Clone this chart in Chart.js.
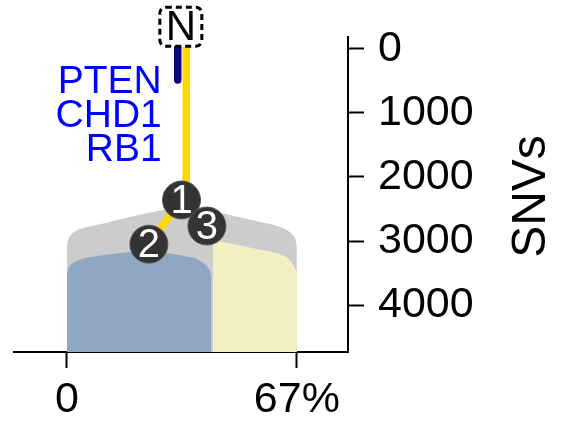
<!DOCTYPE html>
<html><head><meta charset="utf-8">
<script src="https://cdn.jsdelivr.net/npm/chart.js@4.4.1/dist/chart.umd.min.js"></script>
<style>html,body{margin:0;padding:0;background:#fff}canvas{display:block}</style>
</head><body>
<canvas id="c" width="569" height="424"></canvas>
<script>
// Axes
const xTickValues = [0, 67];
const xTickLabels = ['0', '67%'];
const yTickValues = [0, 1000, 2000, 3000, 4000];
const yTickLabels = ['0', '1000', '2000', '3000', '4000'];
const xRange = [-15.4, 81.9];
const yRange = [-187, 4734];
const yTitle = 'SNVs';

// Clone shapes: top outline (x = prevalence %, y = SNVs), filled down to the axis
const cloneAllX = [0, 0.58, 1.75, 3.79, 7.28, 33.79, 59.71, 63.21, 65.25, 66.42, 67];
const cloneAllY = [3078, 2953, 2875, 2813, 2766, 2484, 2742, 2805, 2875, 2953, 3078];
const clone2X = [0, 0.44, 1.46, 3.20, 6.70, 23.59, 37.26, 39.30, 40.76, 41.65, 42.09];
const clone2Y = [3547, 3422, 3359, 3305, 3250, 3156, 3266, 3328, 3391, 3469, 3578];
const clone3X = [42.53, 61.29, 63.62, 65.08, 66.10, 67];
const clone3Y = [2984, 3192, 3242, 3305, 3391, 3484];

// Tree
const rootLabel = 'N';
const rootX = 33.2, rootY = -348;
const nodeLabels = ['1', '2', '3'];
const nodeX = [33.4, 23.9, 40.8];
const nodeY = [2359, 3050, 2766];
const trunkX = [34.8, 34.8];
const trunkY = [-36, 2359];
const driverX = [32.3, 32.3];
const driverY = [-36, 484];
const driverGenes = ['PTEN', 'CHD1', 'RB1'];

const pts = (xs, ys) => xs.map((v, i) => ({x: v, y: ys[i]}));
const FONT = '"Liberation Sans", Arial, Helvetica, sans-serif';

const areaDs = (xs, ys, color, order) => ({
  type: 'line', data: pts(xs, ys), fill: 'start', backgroundColor: color,
  borderWidth: 0, borderColor: 'rgba(0,0,0,0)', pointRadius: 0, tension: 0.25, order, clip: false
});
const edgeDs = (data, color, width, cap, order) => ({
  type: 'line', data, borderColor: color, borderWidth: width, borderCapStyle: cap,
  pointRadius: 0, fill: false, tension: 0, order, clip: false
});

const decor = {
  id: 'decor',
  afterDatasetsDraw(chart) {
    const {ctx, scales: {x, y}} = chart;
    ctx.save();
    // node numbers
    ctx.font = '40px ' + FONT;
    ctx.fillStyle = '#fff';
    ctx.textAlign = 'center';
    ctx.textBaseline = 'middle';
    nodeLabels.forEach((t, i) => {
      const px = x.getPixelForValue(nodeX[i]), py = y.getPixelForValue(nodeY[i]) + 2;
      ctx.fillText(t, px, py);
    });
    // root box
    const rx = x.getPixelForValue(rootX), ry = y.getPixelForValue(rootY);
    const w = 42, h = 39, r = 6, bx = rx - w / 2, by = ry - h / 2;
    ctx.beginPath();
    ctx.moveTo(bx + r, by);
    ctx.arcTo(bx + w, by, bx + w, by + h, r);
    ctx.arcTo(bx + w, by + h, bx, by + h, r);
    ctx.arcTo(bx, by + h, bx, by, r);
    ctx.arcTo(bx, by, bx + w, by, r);
    ctx.closePath();
    ctx.fillStyle = '#fff';
    ctx.fill();
    ctx.setLineDash([6, 4]);
    ctx.lineWidth = 3;
    ctx.strokeStyle = '#000';
    ctx.stroke();
    ctx.setLineDash([]);
    ctx.fillStyle = '#000';
    ctx.font = '42px ' + FONT;
    ctx.fillText(rootLabel, rx, ry + 2);
    // driver genes
    const gx = x.getPixelForValue(driverX[0]) - 16;
    const gy = y.getPixelForValue(driverY[0]);
    ctx.fillStyle = '#0000ff';
    ctx.font = '39px ' + FONT;
    ctx.textAlign = 'right';
    driverGenes.forEach((g, i) => ctx.fillText(g, gx, gy + 36 + i * 33.7));
    // y title
    ctx.translate(y.right - 37, (y.top + y.bottom) / 2 + 2);
    ctx.rotate(-Math.PI / 2);
    ctx.textAlign = 'center';
    ctx.fillStyle = '#000';
    ctx.font = '48px ' + FONT;
    ctx.fillText(yTitle, 0, 0);
    ctx.restore();
  }
};

new Chart(document.getElementById('c'), {
  type: 'line',
  data: {
    datasets: [
      areaDs(cloneAllX, cloneAllY, '#cccccc', 10),
      areaDs(clone2X, clone2Y, '#8fa7c3', 9),
      areaDs(clone3X, clone3Y, '#f2efc3', 9),
      edgeDs(pts(trunkX, trunkY), '#ffd700', 7.5, 'butt', 5),
      edgeDs(pts([nodeX[0], nodeX[1]], [nodeY[0], nodeY[1]]), '#ffd700', 7.5, 'butt', 5),
      edgeDs(pts([nodeX[0], nodeX[2]], [nodeY[0], nodeY[2]]), '#ffd700', 7.5, 'butt', 5),
      edgeDs(pts(driverX, driverY), '#0a0a78', 7.5, 'round', 4),
      {
        type: 'scatter', data: pts(nodeX, nodeY), pointRadius: 19, pointHoverRadius: 19,
        backgroundColor: '#333333', borderColor: '#5a5a5a', borderWidth: 1, order: 1, clip: false
      }
    ]
  },
  options: {
    responsive: false,
    devicePixelRatio: 1,
    animation: false,
    events: [],
    layout: {autoPadding: false, padding: {top: 37, left: 14, right: 0, bottom: 0}},
    plugins: {legend: {display: false}, tooltip: {enabled: false}},
    scales: {
      x: {
        type: 'linear', position: 'bottom', min: xRange[0], max: xRange[1],
        afterBuildTicks: s => { s.ticks = xTickValues.map(v => ({value: v})); },
        afterFit: s => { s.height = 72; s.paddingLeft = s.paddingRight = 0; },
        ticks: {
          color: '#000', font: {size: 43, family: FONT}, padding: 6, maxRotation: 0, autoSkip: false,
          callback: v => xTickLabels[xTickValues.indexOf(v)]
        },
        grid: {drawOnChartArea: false, drawTicks: true, tickLength: 16, tickWidth: 2, tickColor: '#000'},
        border: {display: true, color: '#000', width: 2}
      },
      y: {
        type: 'linear', position: 'right', reverse: true, min: yRange[0], max: yRange[1],
        afterBuildTicks: s => { s.ticks = yTickValues.map(v => ({value: v})); },
        afterFit: s => { s.width = 221; s.paddingTop = s.paddingBottom = 0; },
        ticks: {
          color: '#000', font: {size: 43, family: FONT}, padding: 14, autoSkip: false,
          callback: v => yTickLabels[yTickValues.indexOf(v)]
        },
        grid: {drawOnChartArea: false, drawTicks: true, tickLength: 16, tickWidth: 2, tickColor: '#000'},
        border: {display: true, color: '#000', width: 2}
      }
    }
  },
  plugins: [decor]
});
</script>
</body></html>
